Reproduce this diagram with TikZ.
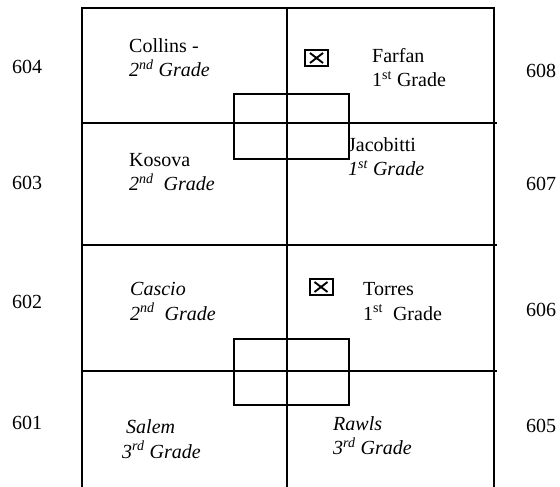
\documentclass[tikz,border=0pt]{standalone}
\usepackage{fontspec}
\setmainfont{Liberation Serif}

\begin{document}
\begin{tikzpicture}[x=1pt,y=-1pt,
  outer/.style={draw=black,line width=2pt},
  wall/.style={draw=black,line width=1.4pt},
  stair/.style={draw=black,line width=1.3pt},
  room/.style={anchor=west,align=left,inner sep=0pt,font=\fontsize{20}{24.5}\selectfont},
  num/.style={anchor=west,inner sep=0pt,font=\fontsize{20}{24}\selectfont},
  chk/.style={draw=black,line width=2pt,minimum width=23pt,minimum height=16pt,inner sep=0pt,
    path picture={\draw[line width=1.9pt]
      (path picture bounding box.center) +(-6.5pt,-5pt) -- +(6.5pt,5pt)
      (path picture bounding box.center) +(-6.5pt,5pt) -- +(6.5pt,-5pt);}}
]
  \useasboundingbox (0,0) rectangle (560,487);

  % building outline and corridor
  \draw[outer] (82,487) -- (82,8) -- (494,8) -- (494,487);
  \draw[wall] (287,8) -- (287,487);
  \foreach \y in {123,245,371}
    \draw[wall] (82,\y) -- (497,\y);

  % stairwells
  \draw[stair] (234,94) rectangle (349,159);
  \draw[stair] (234,339) rectangle (349,405);

  % room numbers
  \node[num] (n604) at (12,67) {604};
  \node[num] (n603) at (12,183) {603};
  \node[num] (n602) at (12,302) {602};
  \node[num] (n601) at (12,423) {601};
  \node[num] (n608) at (526,71) {608};
  \node[num] (n607) at (526,184) {607};
  \node[num] (n606) at (526,310) {606};
  \node[num] (n605) at (526,426) {605};

  % teachers
  \node[room] (collins) at (129,57.5) {Collins -\\\textit{2\textsuperscript{nd} Grade}};
  \node[room] (kosova) at (129,172) {Kosova\\\textit{2\textsuperscript{nd}\ \ Grade}};
  \node[room] (cascio) at (130,301.5) {\textit{Cascio}\\\textit{2\textsuperscript{nd}\ \ Grade}};
  \node[room] (salem) at (122,439) {\hspace*{4pt}\textit{Salem}\\\textit{3\textsuperscript{rd} Grade}};
  \node[room] (farfan) at (372,67.5) {Farfan\\1\textsuperscript{st} Grade};
  \node[room] (jacobitti) at (348,156.5) {Jacobitti\\\textit{1\textsuperscript{st} Grade}};
  \node[room] (torres) at (363,301.5) {Torres\\1\textsuperscript{st}\ \ Grade};
  \node[room] (rawls) at (333,435.5) {\textit{Rawls}\\\textit{3\textsuperscript{rd} Grade}};

  % marked rooms
  \node[chk] (fmark) at (316.5,58) {};
  \node[chk] (tmark) at (321,287) {};
\end{tikzpicture}
\end{document}
